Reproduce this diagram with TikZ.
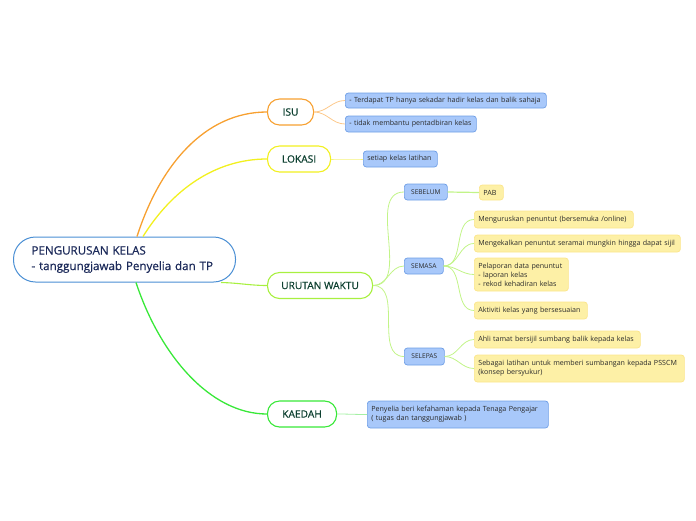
\documentclass[tikz,border=0pt]{standalone}
\usepackage{fontspec}
\setmainfont{Open Sans}
\newfontfamily\semib[FakeBold=0.7]{Open Sans}
\usetikzlibrary{calc}
\definecolor{cenB}{HTML}{4A8FD4}
\definecolor{cenT}{HTML}{1C2A5A}
\definecolor{mainT}{HTML}{0D4030}
\definecolor{isuC}{HTML}{F7A030}
\definecolor{lokC}{HTML}{F2F020}
\definecolor{uruC}{HTML}{A8F040}
\definecolor{kaeC}{HTML}{38E838}
\definecolor{isuL}{HTML}{FCC88A}
\definecolor{lokL}{HTML}{F6F27A}
\definecolor{uruL}{HTML}{C2F488}
\definecolor{kaeL}{HTML}{A4F0A4}
\definecolor{bluF}{HTML}{A8C8FA}
\definecolor{bluD}{HTML}{6E9EE6}
\definecolor{yelF}{HTML}{FDF0A6}
\definecolor{yelD}{HTML}{FBE58A}
\definecolor{boxT}{HTML}{2A2A2A}
\tikzset{
  mainnode/.style={draw, line width=1.1pt, fill=white, rounded corners=12pt, anchor=west, minimum height=26pt, inner sep=0pt, text=mainT, font=\semib\fontsize{10.2}{12}\selectfont},
  bluebox/.style={draw=bluD, fill=bluF, line width=0.7pt, rounded corners=3pt, anchor=west, inner xsep=4pt, inner ysep=0pt, align=left, text=boxT, font=\fontsize{7.1}{9}\selectfont},
  yelbox/.style={draw=yelD, fill=yelF, line width=0.7pt, rounded corners=3pt, anchor=west, inner xsep=4pt, inner ysep=0pt, align=left, text=boxT, font=\fontsize{7.1}{9}\selectfont},
  tagbox/.style={draw=bluD, fill=bluF, line width=0.7pt, rounded corners=3pt, anchor=west, inner sep=0pt, text=boxT, font=\fontsize{6.6}{8}\selectfont},
  subline/.style={line width=0.8pt, out=0, in=180},
}
\begin{document}
\begin{tikzpicture}[x=1pt,y=-1pt]
\useasboundingbox (0,0) rectangle (696,520);
% central
\node[draw=cenB, line width=1pt, fill=white, rounded corners=22pt, anchor=west, minimum height=45pt, text width=192pt, inner xsep=15pt, inner ysep=0pt, align=left, text=cenT, font=\semib\fontsize{11.6}{15.5}\selectfont] (cen) at (13,259.5) {\hspace*{3pt}PENGURUSAN KELAS\\\hspace*{3pt}- tanggungjawab Penyelia dan TP};
% main nodes
\node[mainnode, draw=isuC, minimum width=46pt] (isu) at (267,112) {ISU};
\node[mainnode, draw=lokC, minimum width=63pt] (lok) at (267,159) {LOKASI};
\node[mainnode, draw=uruC, minimum width=105pt] (uru) at (267,285.5) {URUTAN WAKTU};
\node[mainnode, draw=kaeC, minimum width=69pt] (kae) at (267,414) {KAEDAH};
% start points on central node
\coordinate (cI) at ($(cen.north west)+(124,0)$);
\coordinate (cL) at ($(cen.north west)+(130,0)$);
\coordinate (cU) at ($(cen.south east)+(-15,0)$);
\coordinate (cK) at ($(cen.south west)+(123,0)$);
% main connectors
\draw[isuC, line width=1.3pt] (cI) .. controls (160,165) and (205,112) .. (isu.west);
\draw[lokC, line width=1.3pt] (cL) .. controls (172,190) and (215,159) .. (lok.west);
\draw[uruC, line width=1.1pt] (cU) .. controls (240,283) and (250,285.5) .. (uru.west);
\draw[kaeC, line width=1.3pt] (cK) .. controls (160,355) and (210,414) .. (kae.west);
% ISU children
\node[bluebox, text width=193pt, minimum height=15pt] (i1) at (345,100.5) {- Terdapat TP hanya sekadar hadir kelas dan balik sahaja};
\node[bluebox, text width=123pt, minimum height=16pt] (i2) at (345,124) {- tidak membantu pentadbiran kelas};
\draw[isuL, subline] (isu.east) to (i1.west);
\draw[isuL, subline] (isu.east) to (i2.west);
% LOKASI child
\node[bluebox, text width=66pt, minimum height=16pt] (l1) at (363,159) {setiap kelas latihan};
\draw[lokL, subline] (lok.east) to (l1.west);
% URUTAN children
\node[tagbox, minimum width=43pt, minimum height=16pt] (seb) at (404,192) {SEBELUM};
\node[tagbox, minimum width=39pt, minimum height=16pt] (sem) at (404,266) {SEMASA};
\node[tagbox, minimum width=40pt, minimum height=17pt] (sel) at (404,356.5) {SELEPAS};
\draw[uruL, subline] (uru.east) to (seb.west);
\draw[uruL, subline] (uru.east) to (sem.west);
\draw[uruL, subline] (uru.east) to (sel.west);
% SEBELUM
\node[yelbox, text width=16pt, minimum height=15pt] (pab) at (479,192.5) {PAB};
\draw[uruL, line width=1.2pt] (seb.east) -- (pab.west);
% SEMASA
\node[yelbox, text width=151pt, minimum height=17pt] (m1) at (474,219.5) {Menguruskan penuntut (bersemuka /online)};
\node[yelbox, text width=198pt, minimum height=17pt] (m2) at (474,243.5) {Mengekalkan penuntut seramai mungkin hingga dapat sijil};
\node[yelbox, text width=86pt, minimum height=33pt] (m3) at (474,274.5) {Pelaporan data penuntut\\- laporan kelas\\- rekod kehadiran kelas};
\node[yelbox, text width=105pt, minimum height=17pt] (m4) at (474,310.5) {Aktiviti kelas yang bersesuaian};
\foreach \t in {m1,m2,m3,m4} \draw[uruL, subline] (sem.east) to (\t.west);
% SELEPAS
\node[yelbox, text width=158pt, minimum height=17pt] (s1) at (474,339.5) {Ahli tamat bersijil sumbang balik kepada kelas};
\node[yelbox, text width=202pt, minimum height=27pt] (s2) at (474,368.5) {Sebagai latihan untuk memberi sumbangan kepada PSSCM\\(konsep bersyukur)};
\foreach \t in {s1,s2} \draw[uruL, subline] (sel.east) to (\t.west);
% KAEDAH
\node[bluebox, text width=173pt, minimum height=27pt] (k1) at (367,414.5) {Penyelia beri kefahaman kepada Tenaga Pengajar\\( tugas dan tanggungjawab )};
\draw[kaeL, subline] (kae.east) to (k1.west);
\end{tikzpicture}
\end{document}
